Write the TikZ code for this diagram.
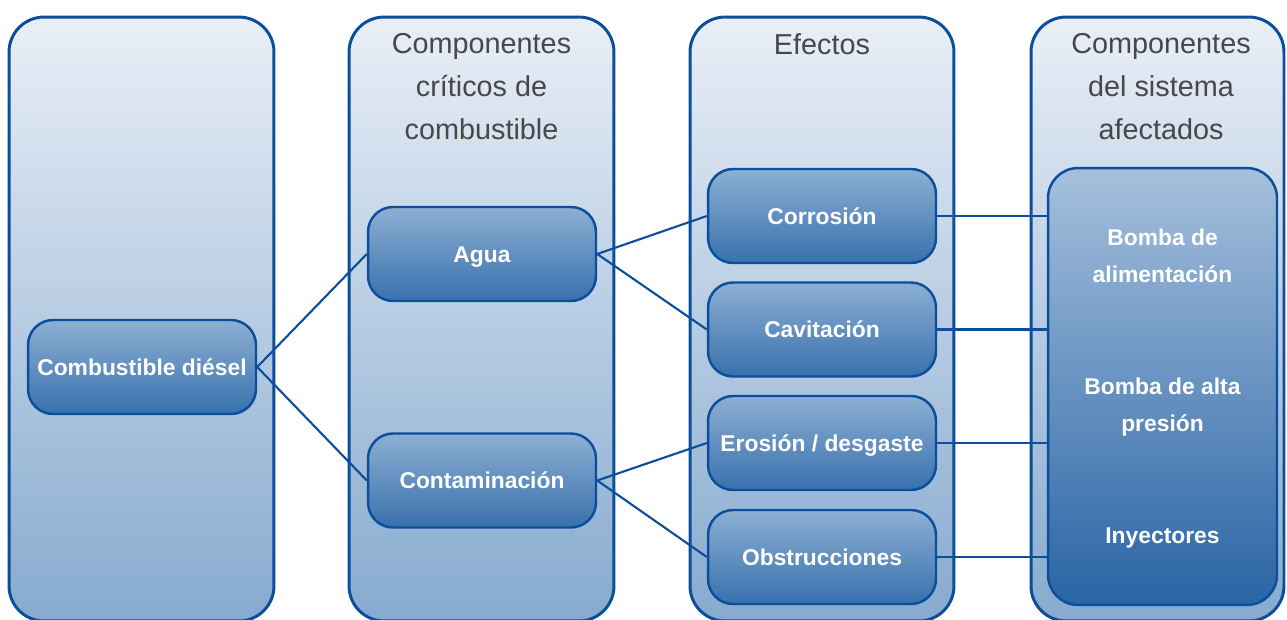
\documentclass[tikz,border=0pt]{standalone}
\usepackage{fontspec}
\setmainfont{Liberation Sans}
\definecolor{edge}{HTML}{0B4F9C}
\definecolor{coltop}{HTML}{E9EFF7}
\definecolor{colbot}{HTML}{86AACE}
\definecolor{boxtop}{HTML}{8DAFD3}
\definecolor{boxbot}{HTML}{3871AD}
\definecolor{bigtop}{HTML}{A5C0DC}
\definecolor{bigbot}{HTML}{2964A5}
\definecolor{titlegray}{HTML}{484848}
\begin{document}
\begin{tikzpicture}[x=0.02cm,y=-0.02cm,
  column/.style={draw=edge, line width=1.7pt, rounded corners=0.7cm,
    top color=coltop, bottom color=colbot, minimum width=5.3cm, inner sep=0pt},
  item/.style={draw=edge, line width=1.4pt, rounded corners=0.5cm,
    top color=boxtop, bottom color=boxbot, minimum width=4.56cm, minimum height=1.88cm,
    inner sep=0pt, text=white, font=\fontsize{13}{15}\selectfont\bfseries,
    text height=0.92em, text depth=0pt},
  bigbox/.style={draw=edge, line width=1.4pt, rounded corners=0.6cm,
    top color=bigtop, bottom color=bigbot, minimum width=4.58cm, minimum height=8.74cm, inner sep=0pt},
  biglabel/.style={text=white, font=\fontsize{13}{21}\selectfont\bfseries, align=center},
  title/.style={text=titlegray, font=\fontsize{16.4}{24.4}\selectfont, align=center},
  link/.style={draw=edge, line width=1.2pt}
]
\useasboundingbox (0,0) rectangle (1287,619);
% columns
\node[column, minimum height=12.08cm] (c1) at (141.5,319) {};
\node[column, minimum height=12.08cm] (c2) at (481.5,319) {};
\node[column, minimum height=12.08cm, minimum width=5.28cm] (c3) at (822,319) {};
\node[column, minimum height=12.08cm, minimum width=5.06cm] (c4) at (1157.5,319) {};
% titles
\node[title] (t2) at (481.5,86.5) {Componentes\\críticos de\\combustible};
\node[title] (t3) at (822,44) {Efectos};
\node[title] (t4) at (1161,86.5) {Componentes\\del sistema\\afectados};
% inner boxes
\node[item] (diesel) at (142,367) {Combustible diésel};
\node[item] (agua) at (482,254) {Agua};
\node[item] (cont) at (482,480.5) {Contaminación};
\node[item] (corr) at (822,216) {Corrosión};
\node[item] (cav) at (822,329.5) {Cavitación};
\node[item] (eros) at (822,443) {Erosión / desgaste};
\node[item] (obst) at (822,557) {Obstrucciones};
\node[bigbox] (big) at (1162.5,386.5) {};
\node[biglabel] (b1) at (1162.5,256) {Bomba de\\alimentación};
\node[biglabel] (b2) at (1162.5,407) {Bomba de alta\\presión};
\node[biglabel] (b3) at (1162.5,538) {Inyectores};
% connectors
\draw[link] (diesel.east) -- (agua.west);
\draw[link] (diesel.east) -- (cont.west);
\draw[link] (agua.east) -- (corr.west);
\draw[link] (agua.east) -- (cav.west);
\draw[link] (cont.east) -- (eros.west);
\draw[link] (cont.east) -- (obst.west);
\draw[link] (corr.east) -- (corr.east -| big.west);
\draw[link] (cav.east) -- (cav.east -| big.west);
\draw[link] (eros.east) -- (eros.east -| big.west);
\draw[link] (obst.east) -- (obst.east -| big.west);
\end{tikzpicture}
\end{document}
